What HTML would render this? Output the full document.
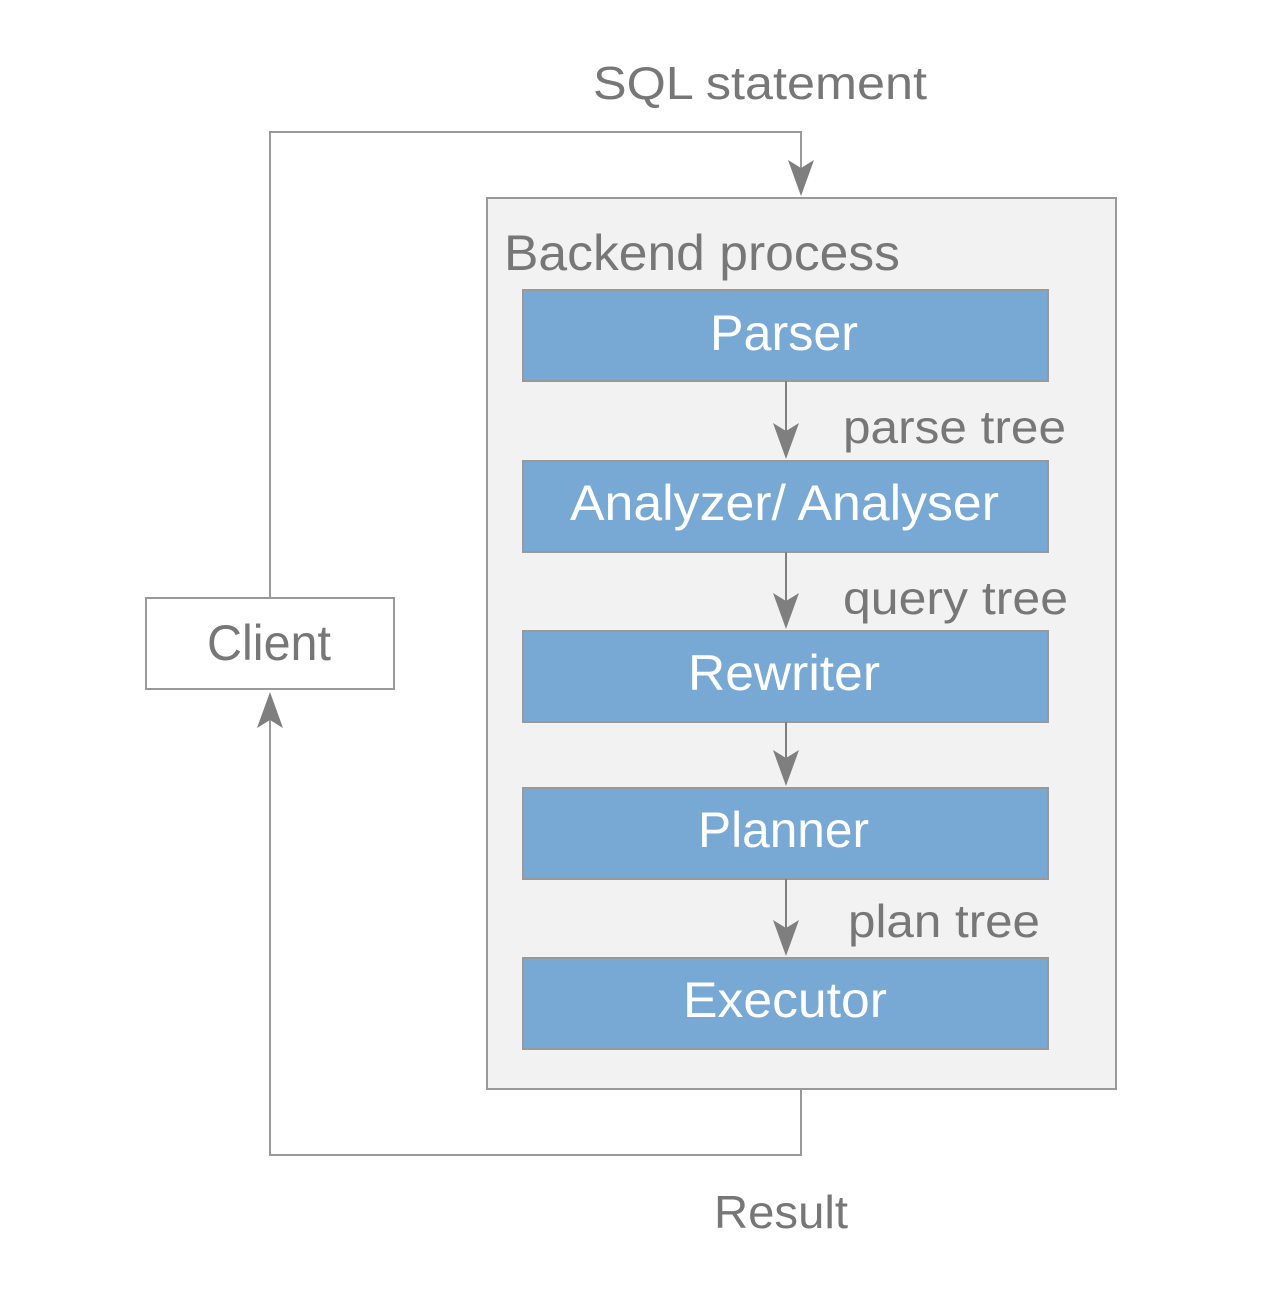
<!DOCTYPE html>
<html><head><style>html,body{margin:0;padding:0;background:#fff}</style></head>
<body>
<svg width="1280" height="1297" viewBox="0 0 1280 1297" xmlns="http://www.w3.org/2000/svg" font-family="Liberation Sans, sans-serif">
<defs>
<path id="ah" d="M0,0 L-13,-36 L0,-28 L13,-36 Z" fill="#7f7f7f"/>
</defs>
<g stroke="#999" stroke-width="2" fill="none">
<polyline points="270,598 270,132 801,132 801,170"/>
<polyline points="801,1089 801,1155 270,1155 270,715"/>
</g>
<rect x="487" y="198" width="629" height="891" fill="#f2f2f2" stroke="#999" stroke-width="2"/>
<rect x="146" y="598" width="248" height="91" fill="#fff" stroke="#999" stroke-width="2"/>
<g fill="#78a9d5" stroke="#999" stroke-width="2">
<rect x="523" y="290" width="525" height="91"/>
<rect x="523" y="461" width="525" height="91"/>
<rect x="523" y="631" width="525" height="91"/>
<rect x="523" y="788" width="525" height="91"/>
<rect x="523" y="958" width="525" height="91"/>
</g>
<g stroke="#7f7f7f" stroke-width="2">
<line x1="786" y1="381" x2="786" y2="435"/>
<line x1="786" y1="552" x2="786" y2="605"/>
<line x1="786" y1="722" x2="786" y2="762"/>
<line x1="786" y1="879" x2="786" y2="932"/>
</g>
<use href="#ah" x="801" y="196"/>
<use href="#ah" x="786" y="459"/>
<use href="#ah" x="786" y="629"/>
<use href="#ah" x="786" y="786"/>
<use href="#ah" x="786" y="956"/>
<use href="#ah" transform="translate(270,692) rotate(180)"/>
<g fill="#777" font-size="46">
<text x="593" y="99" textLength="334" lengthAdjust="spacingAndGlyphs">SQL statement</text>
<text x="504" y="270" font-size="50" textLength="396" lengthAdjust="spacingAndGlyphs">Backend process</text>
<text x="843" y="443" textLength="223" lengthAdjust="spacingAndGlyphs">parse tree</text>
<text x="843" y="614" textLength="225" lengthAdjust="spacingAndGlyphs">query tree</text>
<text x="848" y="937" textLength="192" lengthAdjust="spacingAndGlyphs">plan tree</text>
<text x="207" y="660" font-size="50" textLength="124" lengthAdjust="spacingAndGlyphs">Client</text>
<text x="714" y="1228" textLength="134" lengthAdjust="spacingAndGlyphs">Result</text>
</g>
<g fill="#fff" font-size="50">
<text x="710" y="350" textLength="148" lengthAdjust="spacingAndGlyphs">Parser</text>
<text x="570" y="520" textLength="429" lengthAdjust="spacingAndGlyphs">Analyzer/ Analyser</text>
<text x="688" y="690" textLength="192" lengthAdjust="spacingAndGlyphs">Rewriter</text>
<text x="698" y="847" textLength="171" lengthAdjust="spacingAndGlyphs">Planner</text>
<text x="683" y="1017" textLength="204" lengthAdjust="spacingAndGlyphs">Executor</text>
</g>
</svg>
</body></html>
